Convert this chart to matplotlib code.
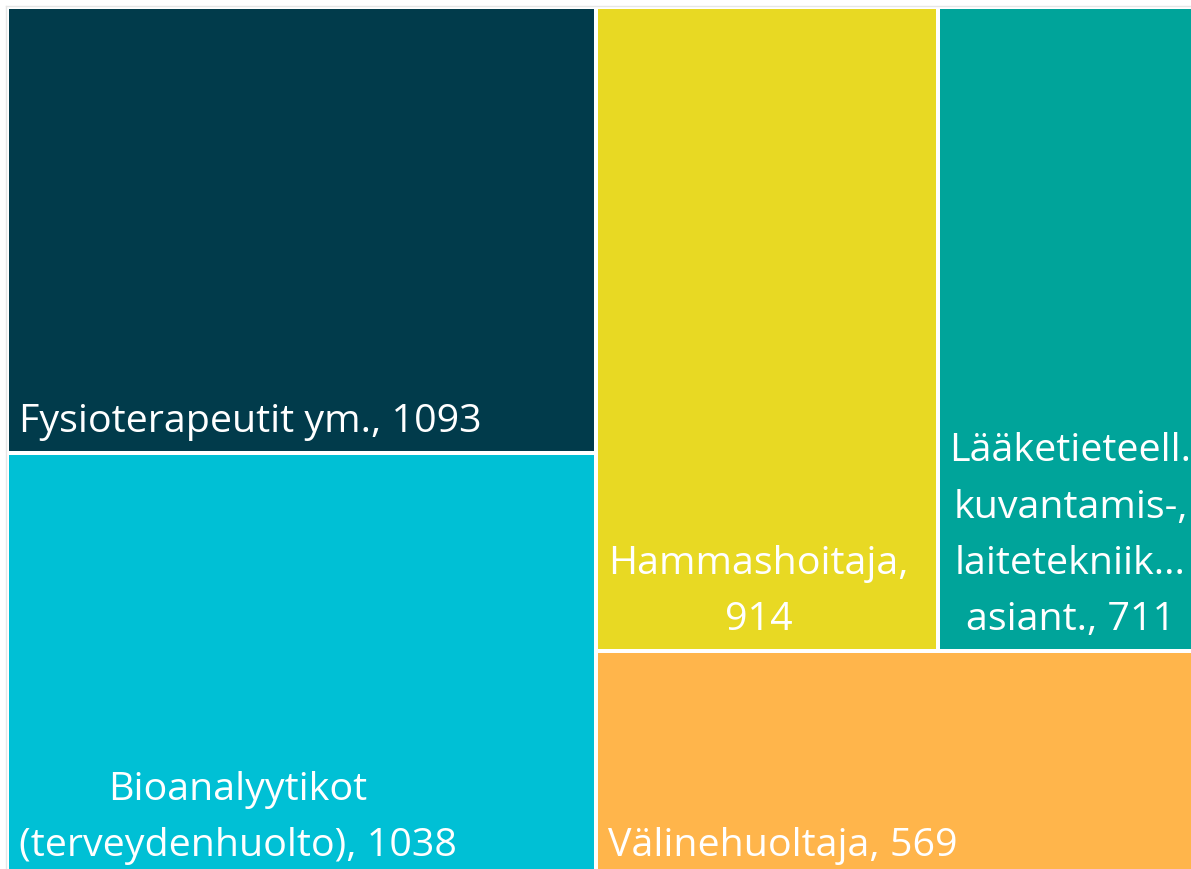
import matplotlib
matplotlib.use("Agg")
import matplotlib.pyplot as plt
from matplotlib.patches import Rectangle

# Data
categories = ["Fysioterapeutit ym.", "Bioanalyytikot (terveydenhuolto)", "Hammashoitaja",
              "Lääketieteell. kuvantamis-, laitetekniik... asiant.", "Välinehuoltaja"]
values = [1093, 1038, 914, 711, 569]
label_lines = [
    ["Fysioterapeutit ym., 1093"],
    ["Bioanalyytikot", "(terveydenhuolto), 1038"],
    ["Hammashoitaja,", "914"],
    ["Lääketieteell.", "kuvantamis-,", "laitetekniik...", "asiant., 711"],
    ["Välinehuoltaja, 569"],
]
colors = ["#013B4B", "#00C0D5", "#E8D923", "#00A49A", "#FFB54B"]

W, H = 1191, 869
fig = plt.figure(figsize=(W / 100, H / 100), dpi=100)
ax = fig.add_axes([0, 0, 1, 1])
ax.set_xlim(0, W)
ax.set_ylim(H, 0)
ax.axis("off")

# treemap layout (area extends beyond the visible canvas)
x0, y0, x1, y1 = 7, 7, 1203, 877
total = sum(values)
left_sum = values[0] + values[1]
right_sum = total - left_sum
xm = x0 + (x1 - x0) * left_sum / total
ym_left = y0 + (y1 - y0) * values[0] / left_sum
top_right = values[2] + values[3]
ym_right = y0 + (y1 - y0) * top_right / right_sum
xm2 = xm + (x1 - xm) * values[2] / top_right

rects = [
    (x0, y0, xm, ym_left),
    (x0, ym_left, xm, y1),
    (xm, y0, xm2, ym_right),
    (xm2, y0, x1, ym_right),
    (xm, ym_right, x1, y1),
]

gap = 4
fs = 28.4
line_h = 64.5
for (a, b, c, d), col, lines in zip(rects, colors, label_lines):
    ax.add_patch(Rectangle((a + gap / 2, b + gap / 2), c - a - gap, d - b - gap,
                           facecolor=col, edgecolor="none"))
    bottom = d - gap / 2
    tx = a + gap / 2 + 10
    txt = "\n".join(lines)
    ax.text(tx, bottom - 19, txt, ha="left", va="baseline", color="white",
            fontsize=fs, family="Open Sans", multialignment="center",
            linespacing=line_h / (fs * 100 / 72))

# light frame
ax.plot([5.5, 5.5], [5.5, H], color="#E6E6E6", lw=1)
ax.plot([5.5, W], [5.5, 5.5], color="#E6E6E6", lw=1)

fig.savefig("out.png", dpi=100)
